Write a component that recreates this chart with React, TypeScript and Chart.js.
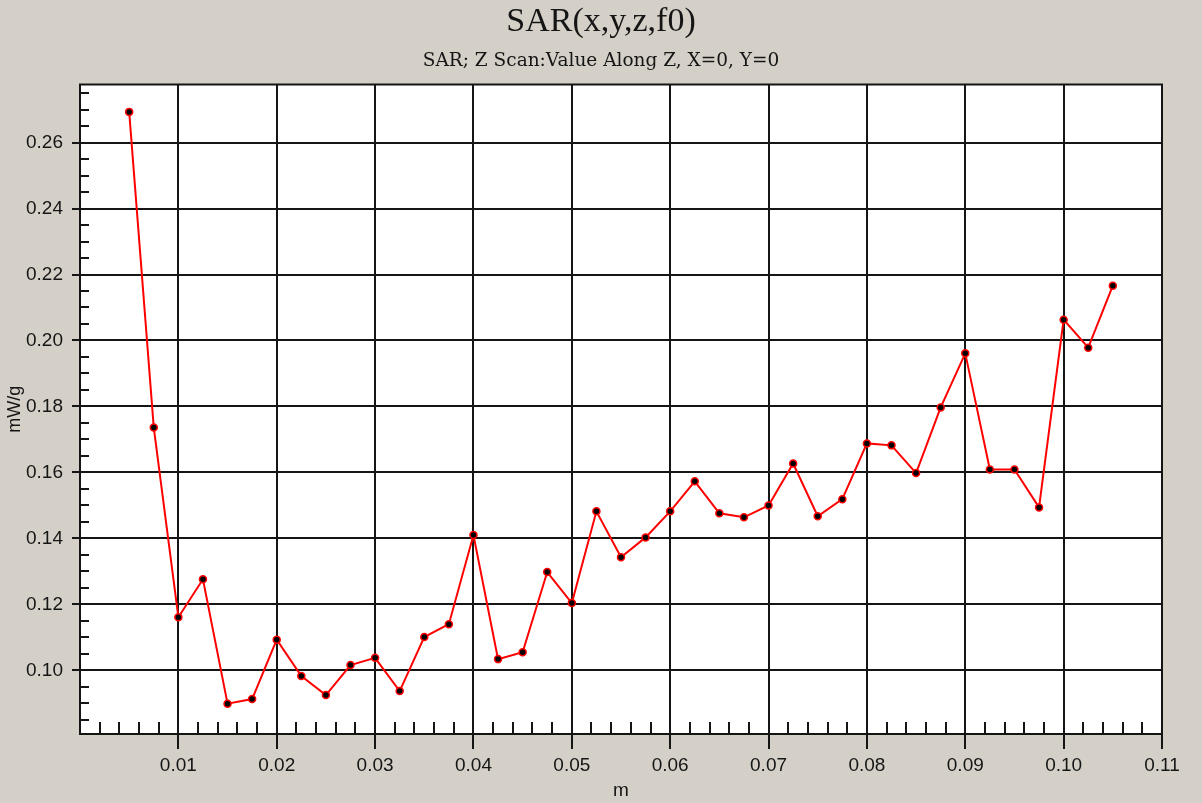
import React, { useEffect, useRef } from 'react';
import { Chart, registerables } from 'chart.js';

Chart.register(...registerables);

// ---- data ----
const depthM = [
  0.005, 0.0075, 0.01, 0.0125, 0.015, 0.0175, 0.02, 0.0225, 0.025, 0.0275,
  0.03, 0.0325, 0.035, 0.0375, 0.04, 0.0425, 0.045, 0.0475, 0.05, 0.0525,
  0.055, 0.0575, 0.06, 0.0625, 0.065, 0.0675, 0.07, 0.0725, 0.075, 0.0775,
  0.08, 0.0825, 0.085, 0.0875, 0.09, 0.0925, 0.095, 0.0975, 0.1, 0.1025, 0.105,
];
const sarValues = [
  0.2693, 0.1736, 0.1161, 0.1276, 0.0899, 0.0913, 0.1093, 0.0983, 0.0925, 0.1016,
  0.1038, 0.0937, 0.1101, 0.1140, 0.1410, 0.1034, 0.1055, 0.1298, 0.1204, 0.1482,
  0.1343, 0.1403, 0.1482, 0.1573, 0.1476, 0.1464, 0.1500, 0.1627, 0.1467, 0.1519,
  0.1688, 0.1682, 0.1598, 0.1797, 0.1961, 0.1609, 0.1609, 0.1494, 0.2063, 0.1978, 0.2166,
];
const xTickValues = [0.01, 0.02, 0.03, 0.04, 0.05, 0.06, 0.07, 0.08, 0.09, 0.1, 0.11];
const yTickValues = [0.1, 0.12, 0.14, 0.16, 0.18, 0.2, 0.22, 0.24, 0.26];
const X_MIN = 0;
const X_MAX = 0.11;
const Y_MIN = 0.0807;
const Y_MAX = 0.2776;
const X_MINOR_STEP = 0.002;
const Y_MINOR_STEP = 0.005;

const titleText = 'SAR(x,y,z,f0)';
const subtitleText = 'SAR; Z Scan:Value Along Z, X=0, Y=0';
const yAxisTitle = 'mW/g';
const xAxisTitle = 'm';

const BG = '#D4D0C8';
const INK = '#151515';

const plotPlugin = {
  id: 'plotDecor',
  beforeDraw(chart: any) {
    const { ctx, chartArea } = chart;
    ctx.save();
    ctx.fillStyle = BG;
    ctx.fillRect(0, 0, chart.width, chart.height);
    ctx.fillStyle = '#ffffff';
    ctx.fillRect(chartArea.left, chartArea.top, chartArea.right - chartArea.left, chartArea.bottom - chartArea.top);
    ctx.restore();
  },
  beforeDatasetsDraw(chart: any) {
    const { ctx, chartArea, scales } = chart;
    const x = scales.x;
    const y = scales.y;
    ctx.save();
    ctx.strokeStyle = INK;
    ctx.lineWidth = 2;
    ctx.beginPath();
    const nx = Math.round((X_MAX - X_MIN) / X_MINOR_STEP);
    for (let i = 1; i < nx; i++) {
      if (i % 5 === 0) continue;
      const px = Math.round(x.getPixelForValue(X_MIN + i * X_MINOR_STEP));
      ctx.moveTo(px, chartArea.bottom);
      ctx.lineTo(px, chartArea.bottom - 12);
    }
    const kStart = Math.ceil(Y_MIN / Y_MINOR_STEP);
    const kEnd = Math.floor(Y_MAX / Y_MINOR_STEP);
    for (let k = kStart; k <= kEnd; k++) {
      if (k % 4 === 0) continue;
      const py = Math.round(y.getPixelForValue(k * Y_MINOR_STEP));
      ctx.moveTo(chartArea.left, py);
      ctx.lineTo(chartArea.left + 9, py);
    }
    ctx.stroke();
    ctx.strokeRect(chartArea.left, chartArea.top, chartArea.right - chartArea.left, chartArea.bottom - chartArea.top);
    ctx.restore();
  },
};

export default function App() {
  const canvasRef = useRef<HTMLCanvasElement | null>(null);

  useEffect(() => {
    const canvas = canvasRef.current;
    if (!canvas) return;
    const points = depthM.map((d, i) => ({ x: d, y: sarValues[i] }));
    const chart = new Chart(canvas, {
      type: 'line',
      data: {
        datasets: [
          {
            data: points,
            xAxisID: 'x',
            yAxisID: 'y',
            borderColor: '#ff0000',
            borderWidth: 2,
            pointRadius: 3.5,
            pointBackgroundColor: '#000000',
            pointBorderColor: '#ff0000',
            pointBorderWidth: 1.5,
            tension: 0,
            fill: false,
          },
        ],
      },
      options: {
        responsive: false,
        animation: false,
        devicePixelRatio: 1,
        layout: { padding: { left: 0, right: 0, top: 0, bottom: 0 } },
        plugins: {
          legend: { display: false },
          tooltip: { enabled: false },
          title: {
            display: true,
            text: titleText,
            color: INK,
            font: { family: '"Liberation Serif", "Times New Roman", serif', size: 34, weight: 'normal', lineHeight: 1.2 },
            padding: { top: 2, bottom: 2 },
          },
          subtitle: {
            display: true,
            text: subtitleText,
            color: INK,
            font: { family: '"DejaVu Serif", serif', size: 18.5, weight: 'normal', lineHeight: 1.2 },
            padding: { top: 5, bottom: 12.5 },
          },
        },
        scales: {
          x: {
            type: 'linear',
            min: X_MIN,
            max: X_MAX,
            afterBuildTicks: (scale: any) => {
              scale.ticks = xTickValues.map((v) => ({ value: v }));
            },
            afterFit: (scale: any) => {
              scale.height = 69;
            },
            ticks: {
              autoSkip: false,
              maxRotation: 0,
              padding: 5,
              color: INK,
              font: { family: '"Liberation Sans", Arial, sans-serif', size: 19 },
              callback: (v: any) => Number(v).toFixed(2),
            },
            grid: { color: INK, lineWidth: 2, tickLength: 15, drawTicks: true, drawOnChartArea: true },
            border: { display: true, color: INK, width: 2 },
            title: {
              display: true,
              text: xAxisTitle,
              color: INK,
              font: { family: '"Liberation Sans", Arial, sans-serif', size: 19, lineHeight: 1.2 },
              padding: { top: 0, bottom: 1 },
            },
          },
          y: {
            type: 'linear',
            position: 'left',
            min: Y_MIN,
            max: Y_MAX,
            afterBuildTicks: (scale: any) => {
              scale.ticks = yTickValues.map((v) => ({ value: v }));
            },
            afterFit: (scale: any) => {
              scale.width = 80;
            },
            ticks: {
              autoSkip: false,
              padding: 9,
              color: INK,
              font: { family: '"Liberation Sans", Arial, sans-serif', size: 19 },
              callback: (v: any) => Number(v).toFixed(2),
            },
            grid: { color: INK, lineWidth: 2, tickLength: 8, drawTicks: true, drawOnChartArea: true },
            border: { display: true, color: INK, width: 2 },
            title: {
              display: true,
              text: yAxisTitle,
              color: INK,
              font: { family: '"Liberation Sans", Arial, sans-serif', size: 18, lineHeight: 1.2 },
              padding: { top: 4, bottom: 0 },
            },
          },
          yRight: {
            type: 'linear',
            position: 'right',
            display: true,
            min: Y_MIN,
            max: Y_MAX,
            afterFit: (scale: any) => {
              scale.width = 40;
            },
            ticks: { display: false },
            grid: { display: false, drawOnChartArea: false, drawTicks: false },
            border: { display: false },
            title: { display: false },
          },
        },
      },
      plugins: [plotPlugin],
    } as any);
    return () => chart.destroy();
  }, []);

  return (
    <div style={{ position: 'fixed', left: 0, top: 0, width: 1202, height: 803, background: BG }}>
      <canvas ref={canvasRef} width={1202} height={803} style={{ display: 'block', width: 1202, height: 803 }} />
    </div>
  );
}
